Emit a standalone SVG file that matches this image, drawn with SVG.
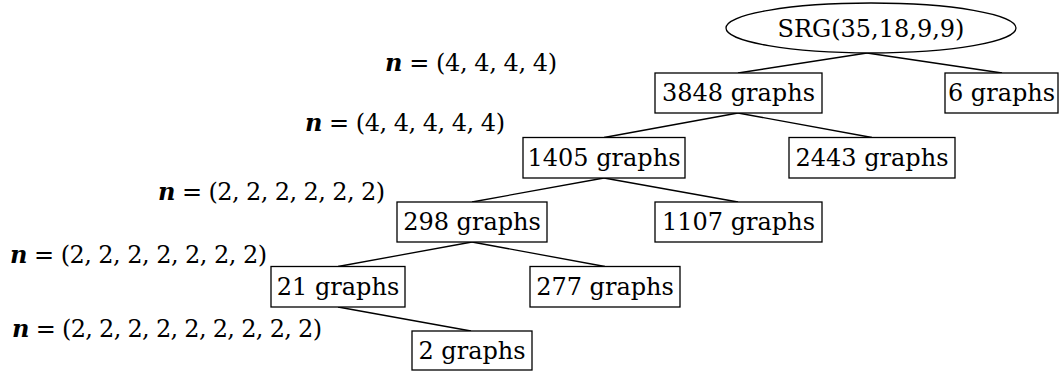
<svg xmlns="http://www.w3.org/2000/svg" width="1060" height="371" viewBox="0 0 1060 371">
<style>
.box{fill:#fff;stroke:#000;stroke-width:1.3}
.t{font-family:"DejaVu Serif","Liberation Serif",serif;font-size:24px;fill:#000;text-anchor:middle}
.lab{font-family:"DejaVu Serif","Liberation Serif",serif;font-size:24px;fill:#000;text-anchor:start}
.n{font-weight:bold;font-style:italic}
.e{stroke:#000;stroke-width:1.3;fill:none}
</style>
<rect width="1060" height="371" fill="#fff"/>
<g id="connectors">
<line class="e" x1="867" y1="53" x2="738" y2="73"/>
<line class="e" x1="867" y1="53" x2="1002" y2="73"/>
<line class="e" x1="738" y1="113" x2="604" y2="137.5"/>
<line class="e" x1="738" y1="113" x2="872" y2="137.5"/>
<line class="e" x1="604" y1="178" x2="472" y2="202"/>
<line class="e" x1="604" y1="178" x2="738" y2="202"/>
<line class="e" x1="472" y1="242" x2="338" y2="266.5"/>
<line class="e" x1="472" y1="242" x2="605" y2="266.5"/>
<line class="e" x1="338" y1="307" x2="471" y2="331"/>
</g>
<g id="root">
<ellipse class="box" cx="871" cy="28" rx="145" ry="25"/>
<text class="t" x="871" y="36.5">SRG(35,18,9,9)</text>
</g>
<g id="n3848">
<rect class="box" x="655" y="73" width="167" height="40"/>
<text class="t" x="738.5" y="101">3848 graphs</text>
</g>
<g id="n6">
<rect class="box" x="945" y="73" width="113" height="40"/>
<text class="t" x="1001.5" y="101">6 graphs</text>
</g>
<g id="n1405">
<rect class="box" x="523" y="137.5" width="162" height="40.5"/>
<text class="t" x="604" y="165.5">1405 graphs</text>
</g>
<g id="n2443">
<rect class="box" x="789" y="137.5" width="166" height="40.5"/>
<text class="t" x="872" y="165.5">2443 graphs</text>
</g>
<g id="n298">
<rect class="box" x="397" y="202" width="150" height="40"/>
<text class="t" x="472" y="230">298 graphs</text>
</g>
<g id="n1107">
<rect class="box" x="655" y="202" width="167" height="40"/>
<text class="t" x="738.5" y="230">1107 graphs</text>
</g>
<g id="n21">
<rect class="box" x="271" y="266.5" width="134" height="40.5"/>
<text class="t" x="338" y="294.5">21 graphs</text>
</g>
<g id="n277">
<rect class="box" x="530" y="266.5" width="150" height="40.5"/>
<text class="t" x="605" y="294.5">277 graphs</text>
</g>
<g id="n2">
<rect class="box" x="412" y="331" width="120" height="39"/>
<text class="t" x="472" y="358.5">2 graphs</text>
</g>
<g id="labels">
<text class="lab" x="385" y="71" textLength="172" lengthAdjust="spacing"><tspan class="n">n</tspan> = (4, 4, 4, 4)</text>
<text class="lab" x="305" y="131" textLength="200" lengthAdjust="spacing"><tspan class="n">n</tspan> = (4, 4, 4, 4, 4)</text>
<text class="lab" x="158" y="200" textLength="227" lengthAdjust="spacing"><tspan class="n">n</tspan> = (2, 2, 2, 2, 2, 2)</text>
<text class="lab" x="10" y="263" textLength="257" lengthAdjust="spacing"><tspan class="n">n</tspan> = (2, 2, 2, 2, 2, 2, 2)</text>
<text class="lab" x="12" y="337" textLength="310" lengthAdjust="spacing"><tspan class="n">n</tspan> = (2, 2, 2, 2, 2, 2, 2, 2, 2)</text>
</g>
</svg>
